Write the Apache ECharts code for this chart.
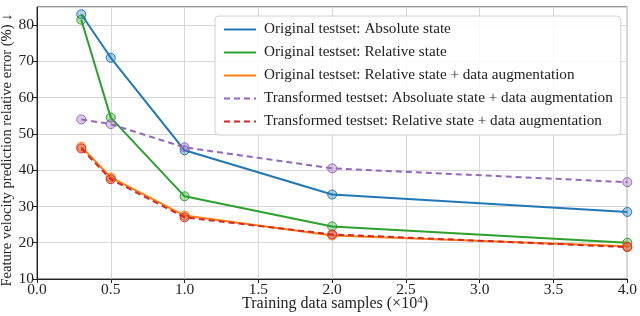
<!DOCTYPE html>
<html>
<head>
<meta charset="utf-8">
<script src="https://cdn.jsdelivr.net/npm/echarts@6/dist/echarts.min.js"></script>
<style>html,body{margin:0;padding:0;background:#fff}#c{width:640px;height:316px}</style>
</head>
<body>
<div id="c"></div>
<script>
const xSamples = [0.3, 0.5, 1.0, 2.0, 4.0];
const seriesNames = [
  'Original testset: Absolute state',
  'Original testset: Relative state',
  'Original testset: Relative state + data augmentation',
  'Transformed testset: Absoluate state + data augmentation',
  'Transformed testset: Relative state + data augmentation'
];
const origAbsolute = [83.0, 71.0, 45.5, 33.3, 28.5];
const origRelative = [81.5, 54.5, 32.8, 24.5, 20.0];
const origRelativeAug = [46.5, 38.0, 27.5, 22.0, 19.0];
const transAbsoluteAug = [54.0, 52.7, 46.3, 40.5, 36.7];
const transRelativeAug = [46.0, 37.5, 27.0, 22.3, 18.8];
const colors = ['#1f77b4', '#2ca02c', '#ff7f0e', '#9467bd', '#d62728'];
const dashed = [false, false, false, true, true];
const allValues = [origAbsolute, origRelative, origRelativeAug, transAbsoluteAug, transRelativeAug];

const font = 'Liberation Serif';
const chart = echarts.init(document.getElementById('c'), null, {renderer: 'canvas'});
const series = allValues.map((vals, i) => ({
  name: seriesNames[i],
  type: 'line',
  data: vals.map((v, j) => [xSamples[j], v]),
  symbol: 'circle',
  symbolSize: 9,
  showSymbol: true,
  clip: true,
  lineStyle: {color: colors[i], width: 2, type: dashed[i] ? [6, 4] : 'solid'},
  itemStyle: {color: echarts.color.modifyAlpha(colors[i], 0.35), borderColor: colors[i], borderWidth: 1},
  emphasis: {disabled: true},
  z: 2 + i
}));

chart.setOption({
  animation: false,
  textStyle: {fontFamily: font},
  grid: {left: 37, right: 9, top: 7, bottom: 37, show: true, borderColor: '#333', borderWidth: 1, backgroundColor: 'transparent'},
  xAxis: {
    type: 'value', min: 0, max: 4, interval: 0.5,
    axisLine: {lineStyle: {color: '#222', width: 1}},
    axisTick: {show: true, inside: false, length: 4, lineStyle: {color: '#222'}},
    axisLabel: {color: '#222', fontSize: 15.5, fontFamily: font, margin: 3, formatter: v => v.toFixed(1)},
    splitLine: {show: true, lineStyle: {color: '#d6d6d6', width: 1}}
  },
  yAxis: {
    type: 'value', min: 10, max: 85, interval: 10,
    axisLine: {show: true, lineStyle: {color: '#222', width: 1}},
    axisTick: {show: true, inside: false, length: 4, lineStyle: {color: '#222'}},
    axisLabel: {color: '#222', fontSize: 15.5, fontFamily: font, margin: 3, showMaxLabel: false},
    splitLine: {show: true, lineStyle: {color: '#d6d6d6', width: 1}}
  },
  legend: {
    orient: 'vertical',
    left: 215, top: 16,
    itemWidth: 32, itemHeight: 14, itemGap: 8,
    padding: [6, 8, 6, 8],
    backgroundColor: 'rgba(255,255,255,0.85)',
    borderColor: '#d0d0d0', borderWidth: 1, borderRadius: 4,
    textStyle: {fontFamily: font, fontSize: 15.2, color: '#222', padding: [0, 0, 0, 3]},
    itemStyle: {opacity: 0},
    data: seriesNames
  },
  graphic: [
    {
      type: 'text', x: 7, y: 150, rotation: Math.PI / 2,
      style: {text: 'Feature velocity prediction relative error (%) \u2193', font: '14.6px "Liberation Serif"', fill: '#222', align: 'center', verticalAlign: 'middle'}
    },
    {
      type: 'text', x: 335, y: 304,
      style: {
        text: '{a|Training data samples (\u00d710}{s|4}{a|)}',
        rich: {
          a: {fontFamily: font, fontSize: 16, fill: '#222', color: '#222'},
          s: {fontFamily: font, fontSize: 11, fill: '#222', color: '#222', verticalAlign: 'top', padding: [0, 0, 8, 0]}
        },
        align: 'center', verticalAlign: 'middle'
      }
    }
  ],
  series: series
});
</script>
</body>
</html>
